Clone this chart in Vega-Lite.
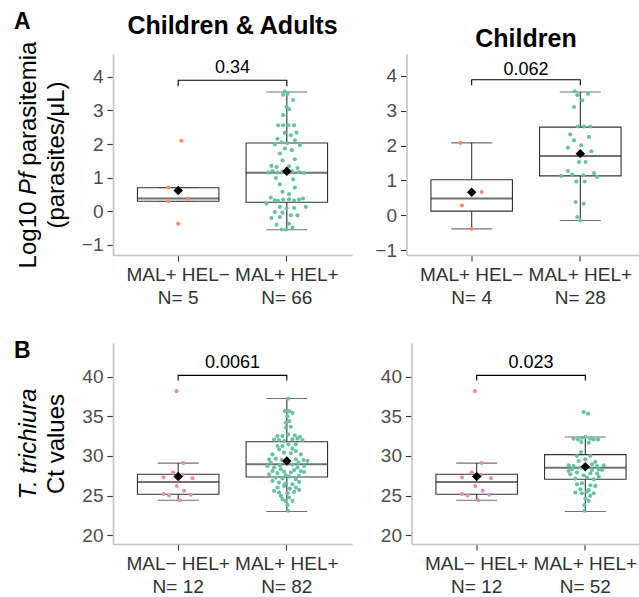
{
  "$schema": "https://vega.github.io/schema/vega-lite/v6.json",
  "padding": {"left": 14, "top": 11, "right": 0, "bottom": 0},
  "spacing": 32,
  "datasets": {
    "stats": [
      {"p": "A1", "g": "MAL+ HEL−|N= 5", "lo": 0.30, "q1": 0.30, "med": 0.38, "q3": 0.70, "hi": 0.71, "mean": 0.62},
      {"p": "A1", "g": "MAL+ HEL+|N= 66", "lo": -0.55, "q1": 0.27, "med": 1.15, "q3": 2.03, "hi": 3.55, "mean": 1.19},
      {"p": "A2", "g": "MAL+ HEL−|N= 4", "lo": -0.39, "q1": 0.12, "med": 0.48, "q3": 1.02, "hi": 2.08, "mean": 0.66},
      {"p": "A2", "g": "MAL+ HEL+|N= 28", "lo": -0.15, "q1": 1.13, "med": 1.70, "q3": 2.53, "hi": 3.54, "mean": 1.77},
      {"p": "B1", "g": "MAL− HEL+|N= 12", "lo": 24.41, "q1": 25.17, "med": 26.7, "q3": 27.69, "hi": 29.1, "mean": 27.4},
      {"p": "B1", "g": "MAL+ HEL+|N= 82", "lo": 22.98, "q1": 27.35, "med": 28.95, "q3": 31.8, "hi": 37.27, "mean": 29.37},
      {"p": "B2", "g": "MAL− HEL+|N= 12", "lo": 24.41, "q1": 25.17, "med": 26.7, "q3": 27.69, "hi": 29.1, "mean": 27.4},
      {"p": "B2", "g": "MAL+ HEL+|N= 52", "lo": 22.98, "q1": 27.06, "med": 28.52, "q3": 30.17, "hi": 32.4, "mean": 28.65}
    ],
    "pts": [
      {"p": "A1", "g": "MAL+ HEL−|N= 5", "c": "MAL+ HEL−", "v": [-0.37, 2.10, 0.71, 0.30, 0.38], "j": [0.0, 0.03, -0.09, -0.092, 0.092]},
      {"p": "A1", "g": "MAL+ HEL+|N= 66", "c": "MAL+ HEL+",
       "v": [3.57,3.50,3.47,3.31,3.11,3.04,2.86,2.56,2.56,2.56,2.56,2.34,2.26,2.34,2.16,2.05,1.99,2.03,2.11,1.97,1.87,1.82,1.72,1.55,1.52,1.35,1.32,1.34,1.29,1.15,1.20,1.15,1.17,1.19,1.17,1.14,0.95,0.99,0.80,0.71,0.58,0.51,0.41,0.33,0.23,0.31,0.35,0.36,0.32,0.35,0.38,0.13,0.10,0.08,-0.02,-0.04,0.13,-0.20,-0.17,-0.12,-0.12,-0.40,-0.37,-0.48,-0.54,-0.54],
       "j": [-0.018,0.006,-0.034,0.058,-0.003,0.021,-0.034,-0.080,-0.034,0.012,0.067,-0.018,0.037,0.089,-0.086,-0.049,-0.110,0.006,0.074,0.120,-0.018,0.046,-0.064,0.074,-0.040,-0.141,-0.095,0.021,0.098,-0.172,-0.132,-0.086,-0.040,0.052,0.113,0.159,0.058,-0.101,-0.064,0.074,-0.040,0.021,-0.147,-0.110,-0.187,-0.080,-0.034,0.021,0.067,0.113,0.150,-0.064,0.067,-0.003,-0.110,-0.040,0.175,-0.141,-0.064,0.037,0.098,-0.095,0.021,0.052,-0.049,-0.009]},
      {"p": "A2", "g": "MAL+ HEL−|N= 4", "c": "MAL+ HEL−", "v": [2.08, 0.67, 0.28, -0.39], "j": [-0.104, 0.092, -0.09, 0.0]},
      {"p": "A2", "g": "MAL+ HEL+|N= 28", "c": "MAL+ HEL+",
       "v": [3.56,3.45,3.30,3.49,3.11,2.55,2.55,2.55,2.32,2.25,2.15,2.01,1.94,1.84,1.53,1.53,1.27,1.13,1.17,1.15,1.21,1.10,0.97,0.97,0.38,0.33,-0.05,-0.15],
       "j": [-0.052,-0.028,0.018,0.071,-0.058,-0.022,0.034,0.092,-0.092,0.080,-0.058,0.009,-0.114,0.102,-0.012,0.049,-0.114,-0.175,-0.074,0.028,0.126,0.154,-0.037,0.040,-0.043,0.031,-0.028,0.0]},
      {"p": "B1", "g": "MAL− HEL+|N= 12", "c": "MAL− HEL+",
       "v": [38.2,29.1,27.9,27.3,27.2,27.6,26.2,25.6,25.2,25.0,25.1,24.4],
       "j": [-0.016,0.046,-0.046,-0.135,0.132,0.040,-0.013,0.055,-0.135,-0.083,0.116,0.015]},
      {"p": "B1", "g": "MAL+ HEL+|N= 82", "c": "MAL+ HEL+",
       "v": [37.27,35.67,35.67,35.46,35.04,34.41,34.20,33.57,33.70,32.52,32.52,32.73,32.61,32.44,32.10,32.02,32.10,32.19,32.02,31.89,31.47,31.26,30.84,30.93,30.63,30.21,30.42,30.33,30.21,29.58,29.66,29.50,29.58,29.50,29.37,28.74,28.53,28.82,28.91,28.53,28.74,28.11,27.84,28.00,27.90,28.11,27.27,27.14,27.39,27.06,26.64,26.55,26.43,26.00,26.22,25.88,26.00,25.38,25.29,25.46,24.96,24.75,24.33,23.78,23.07,29.16,29.24,29.16,28.32,28.23,27.98,27.69,27.56,27.48,26.85,26.72,25.59,25.71,24.54,24.33,31.26,31.47],
       "j": [0.012,-0.018,0.021,0.052,0.006,0.021,-0.009,-0.009,0.037,-0.086,-0.040,0.012,0.074,0.120,-0.117,-0.071,0.052,0.098,0.144,-0.025,0.015,-0.040,-0.071,0.052,0.083,-0.132,-0.025,0.037,0.129,-0.163,-0.101,-0.046,0.083,0.153,0.190,-0.178,-0.117,-0.064,0.052,0.098,0.159,-0.132,-0.086,-0.025,0.037,0.129,-0.101,-0.040,0.021,0.083,-0.071,-0.009,0.052,-0.086,-0.025,0.028,0.083,-0.071,0.006,0.067,-0.055,0.021,-0.015,0.006,0.012,-0.147,-0.015,0.107,-0.055,0.067,0.159,-0.163,-0.009,0.113,-0.132,0.113,-0.117,0.113,-0.040,0.052,-0.086,0.083]},
      {"p": "B2", "g": "MAL− HEL+|N= 12", "c": "MAL− HEL+",
       "v": [38.2,29.1,27.9,27.3,27.2,27.6,26.2,25.6,25.2,25.0,25.1,24.4],
       "j": [-0.016,0.046,-0.046,-0.135,0.132,0.040,-0.013,0.055,-0.135,-0.083,0.116,0.015]},
      {"p": "B2", "g": "MAL+ HEL+|N= 52", "c": "MAL+ HEL+",
       "v": [35.55,35.34,32.19,32.10,32.31,32.40,32.19,32.10,32.10,31.77,31.68,30.50,30.00,30.00,29.58,28.82,28.74,28.95,28.74,28.82,28.32,28.53,28.24,28.32,28.24,27.69,27.90,27.56,27.81,27.81,27.14,27.27,27.06,26.55,26.30,25.80,25.71,25.38,25.29,25.46,25.29,24.62,24.33,23.78,23.07,29.24,29.37,27.39,28.11,26.22,26.43,24.96],
       "j": [-0.015,0.025,-0.108,-0.068,-0.031,0.0,0.046,0.077,0.117,-0.037,0.031,-0.040,-0.077,0.046,0.0,-0.154,-0.108,0.062,0.108,0.169,-0.123,-0.046,0.062,0.123,0.154,-0.138,-0.077,-0.015,0.108,0.046,-0.092,0.015,0.077,-0.031,0.046,-0.046,0.031,-0.092,-0.031,0.015,0.077,0.0,0.031,-0.009,-0.006,0.092,-0.062,0.123,-0.154,0.092,-0.077,0.046]}
    ],
    "brk": [
      {"p": "A1", "g": ["MAL+ HEL−|N= 5","MAL+ HEL−|N= 5","MAL+ HEL+|N= 66","MAL+ HEL+|N= 66"], "y": [3.72,3.9,3.9,3.72], "o": [1,2,3,4]},
      {"p": "A2", "g": ["MAL+ HEL−|N= 4","MAL+ HEL−|N= 4","MAL+ HEL+|N= 28","MAL+ HEL+|N= 28"], "y": [3.73,3.89,3.89,3.73], "o": [1,2,3,4]},
      {"p": "B1", "g": ["MAL− HEL+|N= 12","MAL− HEL+|N= 12","MAL+ HEL+|N= 82","MAL+ HEL+|N= 82"], "y": [39.55,40.2,40.2,39.55], "o": [1,2,3,4]},
      {"p": "B2", "g": ["MAL− HEL+|N= 12","MAL− HEL+|N= 12","MAL+ HEL+|N= 52","MAL+ HEL+|N= 52"], "y": [39.55,40.2,40.2,39.55], "o": [1,2,3,4]}
    ],
    "pv": [
      {"p": "A1", "g": "MAL+ HEL+|N= 66", "y": 4.25, "lab": "0.34"},
      {"p": "A2", "g": "MAL+ HEL+|N= 28", "y": 4.18, "lab": "0.062"},
      {"p": "B1", "g": "MAL+ HEL+|N= 82", "y": 41.8, "lab": "0.0061"},
      {"p": "B2", "g": "MAL+ HEL+|N= 52", "y": 41.8, "lab": "0.023"}
    ]
  },
  "vconcat": [
    {
      "title": {"text": "A", "anchor": "start", "frame": "bounds", "fontSize": 23, "offset": -20, "dx": -2},
      "bounds": "flush",
      "spacing": 54.5,
      "hconcat": [
        {
          "width": 239, "height": 201,
          "title": {"text": "Children & Adults"},
          "resolve": {"scale": {"y": "independent"}, "axis": {"y": "independent"}},
          "layer": [
            {
              "resolve": {"scale": {"xOffset": "independent"}},
              "layer": [
                {"data": {"name": "stats"}, "transform": [{"filter": "datum.p=='A1'"}],
                 "mark": {"type": "rule", "color": "#333333", "strokeWidth": 1.1},
                 "encoding": {
                   "x": {"field": "g", "type": "nominal", "scale": {"domain": ["MAL+ HEL−|N= 5", "MAL+ HEL+|N= 66"], "paddingInner": 0, "paddingOuter": 0.1}, "axis": {"labelExpr": "split(datum.value, '|')", "title": null}},
                   "y": {"field": "lo", "type": "quantitative", "scale": {"domain": [-1.3, 4.68], "nice": false, "zero": false}, "axis": {"values": [-1, 0, 1, 2, 3, 4], "title": "(parasites/μL)", "orient": "left"}},
                   "y2": {"field": "hi"}}},
                {"data": {"name": "stats"}, "transform": [{"filter": "datum.p=='A1'"}],
                 "mark": {"type": "tick", "color": "#333333", "size": 41, "thickness": 1.1},
                 "encoding": {"x": {"field": "g", "type": "nominal"}, "y": {"field": "lo", "type": "quantitative"}}},
                {"data": {"name": "stats"}, "transform": [{"filter": "datum.p=='A1'"}],
                 "mark": {"type": "tick", "color": "#333333", "size": 41, "thickness": 1.1},
                 "encoding": {"x": {"field": "g", "type": "nominal"}, "y": {"field": "hi", "type": "quantitative"}}},
                {"data": {"name": "stats"}, "transform": [{"filter": "datum.p=='A1'"}],
                 "mark": {"type": "bar", "width": {"band": 0.75}, "fill": "white", "stroke": "#333333", "strokeWidth": 1.1},
                 "encoding": {"x": {"field": "g", "type": "nominal"}, "y": {"field": "q1", "type": "quantitative"}, "y2": {"field": "q3"}}},
                {"data": {"name": "stats"}, "transform": [{"filter": "datum.p=='A1'"}],
                 "mark": {"type": "tick", "color": "#333333", "size": 81.5, "thickness": 2},
                 "encoding": {"x": {"field": "g", "type": "nominal"}, "y": {"field": "med", "type": "quantitative"}}},
                {"data": {"name": "pts"}, "transform": [{"filter": "datum.p=='A1'"}, {"flatten": ["v", "j"]}],
                 "mark": {"type": "circle", "size": 17, "opacity": 1},
                 "encoding": {"x": {"field": "g", "type": "nominal"}, "xOffset": {"field": "j", "type": "quantitative", "scale": {"domain": [-0.5, 0.5]}},
                   "y": {"field": "v", "type": "quantitative"},
                   "color": {"field": "c", "type": "nominal", "scale": {"domain": ["MAL+ HEL−", "MAL+ HEL+", "MAL− HEL+"], "range": ["#FC8D62", "#66C2A5", "#E78AC3"]}, "legend": null}}}
              ]
            },
            {"data": {"name": "stats"}, "transform": [{"filter": "datum.p=='A1'"}],
             "mark": {"type": "point", "shape": "diamond", "filled": true, "color": "black", "size": 90, "opacity": 1},
             "encoding": {"x": {"field": "g", "type": "nominal"},
               "y": {"field": "mean", "type": "quantitative", "scale": {"domain": [-1.3, 4.68], "nice": false, "zero": false},
                     "axis": {"orient": "left", "title": "parasitemia", "titleY": 111.2, "titleAlign": "left", "domain": false, "ticks": false, "labels": false, "titlePadding": 2, "offset": 71}}}},
            {"data": {"name": "brk"}, "transform": [{"filter": "datum.p=='A1'"}, {"flatten": ["g", "y", "o"]}],
             "mark": {"type": "line", "color": "black", "strokeWidth": 1.1},
             "encoding": {"x": {"field": "g", "type": "nominal"},
               "y": {"field": "y", "type": "quantitative", "scale": {"domain": [-1.3, 4.68], "nice": false, "zero": false},
                     "axis": {"orient": "left", "title": "Pf", "titleFontStyle": "italic", "titleY": 140.5, "titleAlign": "left", "domain": false, "ticks": false, "labels": false, "titlePadding": 2, "offset": 71}},
               "order": {"field": "o"}}},
            {"data": {"name": "pv"}, "transform": [{"filter": "datum.p=='A1'"}],
             "mark": {"type": "text", "fontSize": 18, "baseline": "middle", "align": "center", "color": "black"},
             "encoding": {"x": {"field": "g", "type": "nominal", "bandPosition": 0},
               "y": {"field": "y", "type": "quantitative", "scale": {"domain": [-1.3, 4.68], "nice": false, "zero": false},
                     "axis": {"orient": "left", "title": "Log10", "titleY": 213.9, "titleAlign": "left", "domain": false, "ticks": false, "labels": false, "titlePadding": 2, "offset": 71}},
               "text": {"field": "lab"}}}
          ]
        },
        {
          "width": 239, "height": 201,
          "title": {"text": "Children"},
          "resolve": {"scale": {"xOffset": "independent"}},
          "layer": [
            {"data": {"name": "stats"}, "transform": [{"filter": "datum.p=='A2'"}],
             "mark": {"type": "rule", "color": "#333333", "strokeWidth": 1.1},
             "encoding": {
               "x": {"field": "g", "type": "nominal", "scale": {"domain": ["MAL+ HEL−|N= 4", "MAL+ HEL+|N= 28"], "paddingInner": 0, "paddingOuter": 0.1}, "axis": {"labelExpr": "split(datum.value, '|')", "title": null}},
               "y": {"field": "lo", "type": "quantitative", "scale": {"domain": [-1.14, 4.63], "nice": false, "zero": false}, "axis": {"values": [-1, 0, 1, 2, 3, 4], "title": null}},
               "y2": {"field": "hi"}}},
            {"data": {"name": "stats"}, "transform": [{"filter": "datum.p=='A2'"}],
             "mark": {"type": "tick", "color": "#333333", "size": 41, "thickness": 1.1},
             "encoding": {"x": {"field": "g", "type": "nominal"}, "y": {"field": "lo", "type": "quantitative"}}},
            {"data": {"name": "stats"}, "transform": [{"filter": "datum.p=='A2'"}],
             "mark": {"type": "tick", "color": "#333333", "size": 41, "thickness": 1.1},
             "encoding": {"x": {"field": "g", "type": "nominal"}, "y": {"field": "hi", "type": "quantitative"}}},
            {"data": {"name": "stats"}, "transform": [{"filter": "datum.p=='A2'"}],
             "mark": {"type": "bar", "width": {"band": 0.75}, "fill": "white", "stroke": "#333333", "strokeWidth": 1.1},
             "encoding": {"x": {"field": "g", "type": "nominal"}, "y": {"field": "q1", "type": "quantitative"}, "y2": {"field": "q3"}}},
            {"data": {"name": "stats"}, "transform": [{"filter": "datum.p=='A2'"}],
             "mark": {"type": "tick", "color": "#333333", "size": 81.5, "thickness": 2},
             "encoding": {"x": {"field": "g", "type": "nominal"}, "y": {"field": "med", "type": "quantitative"}}},
            {"data": {"name": "pts"}, "transform": [{"filter": "datum.p=='A2'"}, {"flatten": ["v", "j"]}],
             "mark": {"type": "circle", "size": 17, "opacity": 1},
             "encoding": {"x": {"field": "g", "type": "nominal"}, "xOffset": {"field": "j", "type": "quantitative", "scale": {"domain": [-0.5, 0.5]}},
               "y": {"field": "v", "type": "quantitative"},
               "color": {"field": "c", "type": "nominal", "scale": {"domain": ["MAL+ HEL−", "MAL+ HEL+", "MAL− HEL+"], "range": ["#FC8D62", "#66C2A5", "#E78AC3"]}, "legend": null}}},
            {"data": {"name": "stats"}, "transform": [{"filter": "datum.p=='A2'"}],
             "mark": {"type": "point", "shape": "diamond", "filled": true, "color": "black", "size": 90, "opacity": 1},
             "encoding": {"x": {"field": "g", "type": "nominal"}, "y": {"field": "mean", "type": "quantitative"}}},
            {"data": {"name": "brk"}, "transform": [{"filter": "datum.p=='A2'"}, {"flatten": ["g", "y", "o"]}],
             "mark": {"type": "line", "color": "black", "strokeWidth": 1.1},
             "encoding": {"x": {"field": "g", "type": "nominal"}, "y": {"field": "y", "type": "quantitative"}, "order": {"field": "o"}}},
            {"data": {"name": "pv"}, "transform": [{"filter": "datum.p=='A2'"}],
             "mark": {"type": "text", "fontSize": 18, "baseline": "middle", "align": "center", "color": "black"},
             "encoding": {"x": {"field": "g", "type": "nominal", "bandPosition": 0}, "y": {"field": "y", "type": "quantitative"}, "text": {"field": "lab"}}}
          ]
        }
      ]
    },
    {
      "title": {"text": "B", "anchor": "start", "frame": "bounds", "fontSize": 23, "offset": -19.5, "dx": -2},
      "bounds": "flush",
      "spacing": 59.5,
      "hconcat": [
        {
          "width": 239, "height": 201,
          "resolve": {"scale": {"y": "independent"}, "axis": {"y": "independent"}},
          "layer": [
            {
              "resolve": {"scale": {"xOffset": "independent"}},
              "layer": [
                {"data": {"name": "stats"}, "transform": [{"filter": "datum.p=='B1'"}],
                 "mark": {"type": "rule", "color": "#333333", "strokeWidth": 1.1},
                 "encoding": {
                   "x": {"field": "g", "type": "nominal", "scale": {"domain": ["MAL− HEL+|N= 12", "MAL+ HEL+|N= 82"], "paddingInner": 0, "paddingOuter": 0.1}, "axis": {"labelExpr": "split(datum.value, '|')", "title": null}},
                   "y": {"field": "lo", "type": "quantitative", "scale": {"domain": [18.87, 44.29], "nice": false, "zero": false}, "axis": {"values": [20, 25, 30, 35, 40], "title": "Ct values", "orient": "left"}},
                   "y2": {"field": "hi"}}},
                {"data": {"name": "stats"}, "transform": [{"filter": "datum.p=='B1'"}],
                 "mark": {"type": "tick", "color": "#333333", "size": 41, "thickness": 1.1},
                 "encoding": {"x": {"field": "g", "type": "nominal"}, "y": {"field": "lo", "type": "quantitative"}}},
                {"data": {"name": "stats"}, "transform": [{"filter": "datum.p=='B1'"}],
                 "mark": {"type": "tick", "color": "#333333", "size": 41, "thickness": 1.1},
                 "encoding": {"x": {"field": "g", "type": "nominal"}, "y": {"field": "hi", "type": "quantitative"}}},
                {"data": {"name": "stats"}, "transform": [{"filter": "datum.p=='B1'"}],
                 "mark": {"type": "bar", "width": {"band": 0.75}, "fill": "white", "stroke": "#333333", "strokeWidth": 1.1},
                 "encoding": {"x": {"field": "g", "type": "nominal"}, "y": {"field": "q1", "type": "quantitative"}, "y2": {"field": "q3"}}},
                {"data": {"name": "stats"}, "transform": [{"filter": "datum.p=='B1'"}],
                 "mark": {"type": "tick", "color": "#333333", "size": 81.5, "thickness": 2},
                 "encoding": {"x": {"field": "g", "type": "nominal"}, "y": {"field": "med", "type": "quantitative"}}},
                {"data": {"name": "pts"}, "transform": [{"filter": "datum.p=='B1'"}, {"flatten": ["v", "j"]}],
                 "mark": {"type": "circle", "size": 17, "opacity": 1},
                 "encoding": {"x": {"field": "g", "type": "nominal"}, "xOffset": {"field": "j", "type": "quantitative", "scale": {"domain": [-0.5, 0.5]}},
                   "y": {"field": "v", "type": "quantitative"},
                   "color": {"field": "c", "type": "nominal", "scale": {"domain": ["MAL+ HEL−", "MAL+ HEL+", "MAL− HEL+"], "range": ["#FC8D62", "#66C2A5", "#E78AC3"]}, "legend": null}}},
                {"data": {"name": "stats"}, "transform": [{"filter": "datum.p=='B1'"}],
                 "mark": {"type": "point", "shape": "diamond", "filled": true, "color": "black", "size": 90, "opacity": 1},
                 "encoding": {"x": {"field": "g", "type": "nominal"}, "y": {"field": "mean", "type": "quantitative"}}},
                {"data": {"name": "brk"}, "transform": [{"filter": "datum.p=='B1'"}, {"flatten": ["g", "y", "o"]}],
                 "mark": {"type": "line", "color": "black", "strokeWidth": 1.1},
                 "encoding": {"x": {"field": "g", "type": "nominal"}, "y": {"field": "y", "type": "quantitative"}, "order": {"field": "o"}}}
              ]
            },
            {"data": {"name": "pv"}, "transform": [{"filter": "datum.p=='B1'"}],
             "mark": {"type": "text", "fontSize": 18, "baseline": "middle", "align": "center", "color": "black"},
             "encoding": {"x": {"field": "g", "type": "nominal", "bandPosition": 0},
               "y": {"field": "y", "type": "quantitative", "scale": {"domain": [18.87, 44.29], "nice": false, "zero": false},
                     "axis": {"orient": "left", "title": "T. trichiura", "titleFontStyle": "italic", "domain": false, "ticks": false, "labels": false, "titlePadding": 2, "offset": 71}},
               "text": {"field": "lab"}}}
          ]
        },
        {
          "width": 239, "height": 201,
          "resolve": {"scale": {"xOffset": "independent"}},
          "layer": [
            {"data": {"name": "stats"}, "transform": [{"filter": "datum.p=='B2'"}],
             "mark": {"type": "rule", "color": "#333333", "strokeWidth": 1.1},
             "encoding": {
               "x": {"field": "g", "type": "nominal", "scale": {"domain": ["MAL− HEL+|N= 12", "MAL+ HEL+|N= 52"], "paddingInner": 0, "paddingOuter": 0.1}, "axis": {"labelExpr": "split(datum.value, '|')", "title": null}},
               "y": {"field": "lo", "type": "quantitative", "scale": {"domain": [18.87, 44.29], "nice": false, "zero": false}, "axis": {"values": [20, 25, 30, 35, 40], "title": null}},
               "y2": {"field": "hi"}}},
            {"data": {"name": "stats"}, "transform": [{"filter": "datum.p=='B2'"}],
             "mark": {"type": "tick", "color": "#333333", "size": 41, "thickness": 1.1},
             "encoding": {"x": {"field": "g", "type": "nominal"}, "y": {"field": "lo", "type": "quantitative"}}},
            {"data": {"name": "stats"}, "transform": [{"filter": "datum.p=='B2'"}],
             "mark": {"type": "tick", "color": "#333333", "size": 41, "thickness": 1.1},
             "encoding": {"x": {"field": "g", "type": "nominal"}, "y": {"field": "hi", "type": "quantitative"}}},
            {"data": {"name": "stats"}, "transform": [{"filter": "datum.p=='B2'"}],
             "mark": {"type": "bar", "width": {"band": 0.75}, "fill": "white", "stroke": "#333333", "strokeWidth": 1.1},
             "encoding": {"x": {"field": "g", "type": "nominal"}, "y": {"field": "q1", "type": "quantitative"}, "y2": {"field": "q3"}}},
            {"data": {"name": "stats"}, "transform": [{"filter": "datum.p=='B2'"}],
             "mark": {"type": "tick", "color": "#333333", "size": 81.5, "thickness": 2},
             "encoding": {"x": {"field": "g", "type": "nominal"}, "y": {"field": "med", "type": "quantitative"}}},
            {"data": {"name": "pts"}, "transform": [{"filter": "datum.p=='B2'"}, {"flatten": ["v", "j"]}],
             "mark": {"type": "circle", "size": 17, "opacity": 1},
             "encoding": {"x": {"field": "g", "type": "nominal"}, "xOffset": {"field": "j", "type": "quantitative", "scale": {"domain": [-0.5, 0.5]}},
               "y": {"field": "v", "type": "quantitative"},
               "color": {"field": "c", "type": "nominal", "scale": {"domain": ["MAL+ HEL−", "MAL+ HEL+", "MAL− HEL+"], "range": ["#FC8D62", "#66C2A5", "#E78AC3"]}, "legend": null}}},
            {"data": {"name": "stats"}, "transform": [{"filter": "datum.p=='B2'"}],
             "mark": {"type": "point", "shape": "diamond", "filled": true, "color": "black", "size": 90, "opacity": 1},
             "encoding": {"x": {"field": "g", "type": "nominal"}, "y": {"field": "mean", "type": "quantitative"}}},
            {"data": {"name": "brk"}, "transform": [{"filter": "datum.p=='B2'"}, {"flatten": ["g", "y", "o"]}],
             "mark": {"type": "line", "color": "black", "strokeWidth": 1.1},
             "encoding": {"x": {"field": "g", "type": "nominal"}, "y": {"field": "y", "type": "quantitative"}, "order": {"field": "o"}}},
            {"data": {"name": "pv"}, "transform": [{"filter": "datum.p=='B2'"}],
             "mark": {"type": "text", "fontSize": 18, "baseline": "middle", "align": "center", "color": "black"},
             "encoding": {"x": {"field": "g", "type": "nominal", "bandPosition": 0}, "y": {"field": "y", "type": "quantitative"}, "text": {"field": "lab"}}}
          ]
        }
      ]
    }
  ],
  "config": {
    "font": "Liberation Sans",
    "view": {"stroke": null},
    "axis": {"grid": false, "domainColor": "#c2c2c2", "domainWidth": 1.6, "tickColor": "#333333", "tickWidth": 1.1, "tickSize": 6,
             "labelFont": "Liberation Sans", "labelFontSize": 19, "labelColor": "#4d4d4d", "labelPadding": 4,
             "titleFont": "Liberation Sans", "titleFontSize": 24, "titleFontWeight": "normal", "titleColor": "#000000", "titleLineHeight": 29, "titlePadding": 13},
    "axisX": {"labelAngle": 0, "labelColor": "#333333", "labelLineHeight": 23, "labelPadding": 4},
    "title": {"font": "Liberation Sans", "fontSize": 25, "fontWeight": "bold", "color": "#000000", "anchor": "middle", "baseline": "alphabetic", "offset": 2},
    "text": {"font": "Liberation Sans"}
  }
}
